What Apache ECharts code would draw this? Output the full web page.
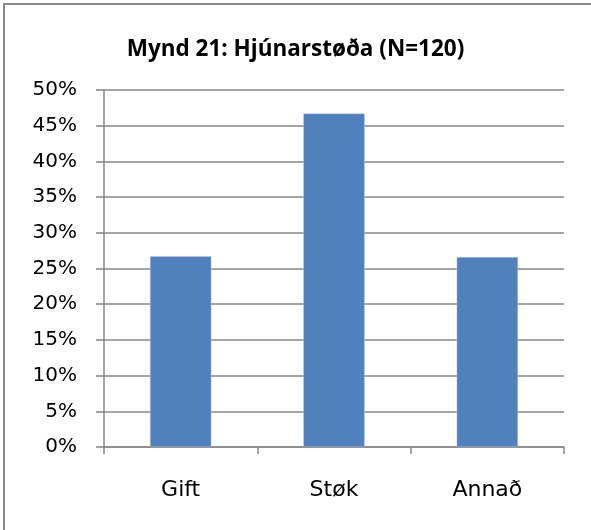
<!DOCTYPE html>
<html><head><meta charset="utf-8">
<script src="https://cdn.jsdelivr.net/npm/echarts@6/dist/echarts.min.js"></script>
<style>html,body{margin:0;padding:0;background:#fff}#c{width:591px;height:530px}
#frame{position:absolute;left:3px;top:3px;width:588px;height:527px;border-left:2px solid #8a8a8a;border-top:2px solid #8a8a8a;box-sizing:border-box;pointer-events:none}</style>
</head><body><div id="c"></div><div id="frame"></div>
<script>
const categories = ['Gift', 'Støk', 'Annað'];
const values = [26.7, 46.7, 26.6];
const titleText = 'Mynd 21: Hjúnarstøða (N=120)';

const chart = echarts.init(document.getElementById('c'), null, {renderer: 'canvas'});
chart.setOption({
  animation: false,
  title: {
    text: titleText, left: 'center', top: 33,
    textStyle: {fontFamily: 'Open Sans', fontWeight: 'bold', fontSize: 22.5, color: '#000'}
  },
  grid: {left: 104, right: 27, top: 90, bottom: 83, containLabel: false},
  xAxis: {
    type: 'category', data: categories,
    axisLine: {lineStyle: {color: '#878787', width: 1.5}},
    axisTick: {show: true, length: 7, lineStyle: {color: '#878787', width: 1.5}},
    axisLabel: {margin: 32, fontFamily: 'DejaVu Sans', fontSize: 22, color: '#000'}
  },
  yAxis: {
    type: 'value', min: 0, max: 50, interval: 5,
    axisLine: {show: true, lineStyle: {color: '#878787', width: 1.5}},
    axisTick: {show: true, length: 8, lineStyle: {color: '#878787', width: 1.5}},
    axisLabel: {formatter: '{value}%', margin: 27, fontFamily: 'DejaVu Sans', fontSize: 20, color: '#000'},
    splitLine: {lineStyle: {color: '#878787', width: 1.5}}
  },
  series: [{
    type: 'bar', data: values, barWidth: '40%',
    itemStyle: {color: '#4f81bd', borderColor: '#b9cde5', borderWidth: 0.5}
  }]
});
</script></body></html>
